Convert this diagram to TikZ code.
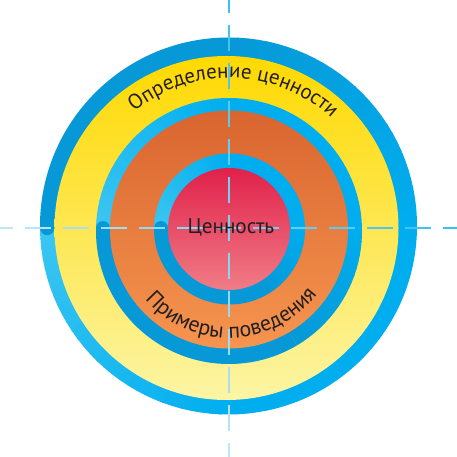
\documentclass[tikz,border=0pt]{standalone}
\usepackage{fontspec}
\newfontfamily\lbl{PT Sans}
\usetikzlibrary{decorations.text}
\definecolor{bbase}{HTML}{00AEEF}
\definecolor{bdark}{HTML}{0798D7}
\definecolor{blight}{HTML}{3CC6F2}
\definecolor{ytop}{HTML}{FFD900}
\definecolor{ymid}{HTML}{FFEC00}
\definecolor{ybot}{HTML}{FCF5A5}
\definecolor{otop}{HTML}{D9652F}
\definecolor{omid}{HTML}{F07422}
\definecolor{obot}{HTML}{F6954F}
\definecolor{rtop}{HTML}{E1214B}
\definecolor{rmid}{HTML}{EA3A58}
\definecolor{rbot}{HTML}{F07C86}
\definecolor{dsat}{HTML}{38C0EF}
\definecolor{dpale}{HTML}{C0E6F8}
\definecolor{txt}{HTML}{231F20}
\tikzset{
  dashseg/.style={line width=2.8pt, draw=#1},
  lbltext/.style={font=\lbl\fontsize{21.2}{25}\selectfont, text=txt}
}
\newcommand{\wdg}[3]{\fill[#1] (0,0) -- (#2:260) arc[start angle=#2, end angle=#3, radius=260] -- cycle;}
\begin{document}
\begin{tikzpicture}[x=1pt,y=1pt]
\useasboundingbox (-229,-229) rectangle (228,228);
% ---------- outer ring ----------
\begin{scope}
  \clip (-0.5,2) circle[radius=188.5];
  \foreach \a in {0,3,...,87} {\pgfmathsetmacro\p{(\a+1.5)/90*100}\wdg{bdark!\p!bbase}{\a}{\a+3.4}}
  \wdg{bdark}{90}{180}
  \foreach \a in {180,183,...,267} {\pgfmathsetmacro\p{100-(\a+1.5-180)/90*100}\wdg{blight!\p!bbase}{\a}{\a+3.4}}
  \wdg{bbase}{270}{360}
\end{scope}
\fill[bdark] (-181.75,0) circle[radius=7.2];
\shade[top color=ytop, middle color=ymid, bottom color=ybot] (-2.5,0) circle[radius=172];
% ---------- middle ring ----------
\begin{scope}
  \clip (0,-3) circle[radius=133];
  \wdg{bbase}{0}{90}
  \foreach \a in {90,93,...,177} {\pgfmathsetmacro\p{(\a+1.5-90)/90*100}\wdg{blight!\p!bbase}{\a}{\a+3.4}}
  \wdg{bdark}{180}{300}
  \foreach \a in {300,303,...,357} {\pgfmathsetmacro\p{100-(\a+1.5-300)/60*100}\wdg{bdark!\p!bbase}{\a}{\a+3.4}}
\end{scope}
\fill[bdark] (-126,0) circle[radius=7];
\shade[top color=otop, middle color=omid, bottom color=obot] (0,-1.5) circle[radius=119];
% ---------- inner ring ----------
\begin{scope}
  \clip (0.5,-1) circle[radius=75.5];
  \wdg{bbase}{0}{90}
  \foreach \a in {90,93,...,177} {\pgfmathsetmacro\p{(\a+1.5-90)/90*100}\wdg{blight!\p!bbase}{\a}{\a+3.4}}
  \wdg{bdark}{180}{300}
  \foreach \a in {300,303,...,357} {\pgfmathsetmacro\p{100-(\a+1.5-300)/60*100}\wdg{bdark!\p!bbase}{\a}{\a+3.4}}
\end{scope}
\fill[bdark] (-68,0) circle[radius=7];
\shade[top color=rtop, middle color=rmid, bottom color=rbot] (0,-1) circle[radius=61];
% ---------- dashed axes ----------
\foreach \k in {-1,0,...,11} {
  \pgfmathsetmacro\s{max(0,25+38*\k)}
  \pgfmathsetmacro\e{min(457,25+38*\k+26)}
  \pgfmathsetmacro\pv{100*(1-(\s+\e)/2/457)}
  \pgfmathsetmacro\ph{100*((\s+\e)/2/457)}
  \draw[dashseg=dsat!\pv!dpale] (0,228-\s) -- (0,228-\e);
  \draw[dashseg=dsat!\ph!dpale] (\s-229,0) -- (\e-229,0);
}
% ---------- texts ----------
\node[lbltext, anchor=base] (centre) at (2,-6) {Ценность};
\path[decorate, decoration={text along path, text align=center, text color=txt,
  text={|\lbl\fontsize{21}{25}\selectfont|Определение ценности}}]
  (168:150) arc[start angle=168, end angle=8, radius=150];
\path[decorate, decoration={text along path, text align=center, text color=txt,
  text={|\lbl\fontsize{21.8}{26}\selectfont|Примеры поведения}}]
  (191.75:110) arc[start angle=191.75, end angle=351.75, radius=110];
\end{tikzpicture}
\end{document}
